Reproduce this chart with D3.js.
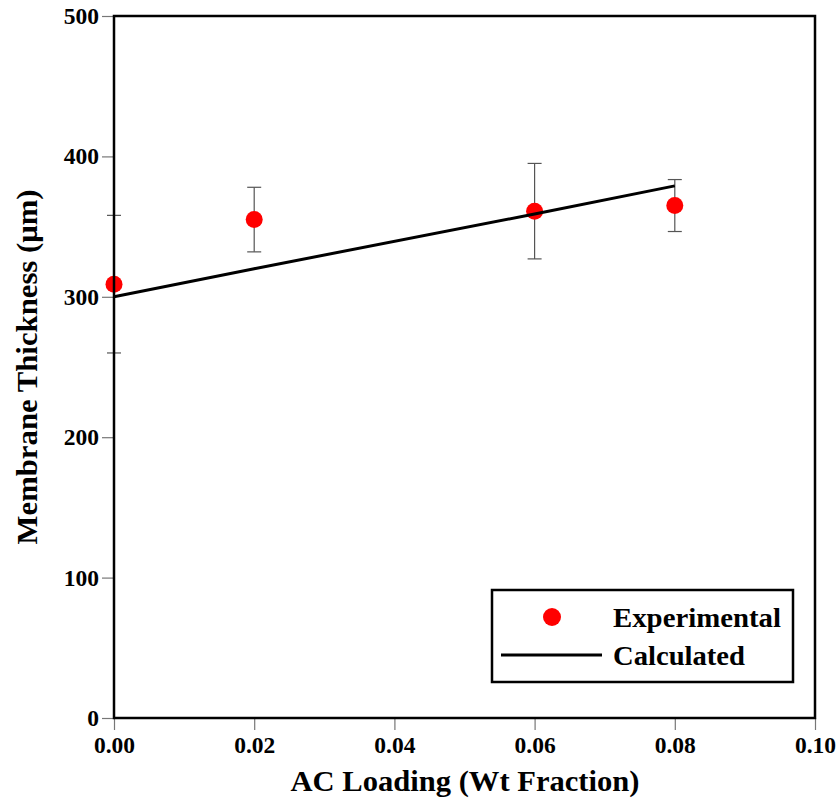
<!DOCTYPE html>
<html><head><meta charset="utf-8">
<script src="https://cdn.jsdelivr.net/npm/d3@7/dist/d3.min.js"></script>
<style>body{margin:0;background:#fff}text{font-family:"Liberation Serif","Times New Roman",serif;font-weight:bold}</style>
</head><body>
<svg id="c" width="840" height="799"></svg>
<script>
const expX = [0.00, 0.02, 0.06, 0.08];
const expY = [309, 355, 361, 365];
const expErr = [49, 23, 34, 18.5];
const calcX = [0.00, 0.02, 0.06, 0.08];
const calcY = [300, 320, 359, 379];
const xTicks = [0, 0.02, 0.04, 0.06, 0.08, 0.10];
const yTicks = [0, 100, 200, 300, 400, 500];

const svg = d3.select("#c");
const L = 114, R = 815, T = 16, B = 718;
const x = d3.scaleLinear().domain([0, 0.10]).range([L, R]);
const y = d3.scaleLinear().domain([0, 500]).range([B, T]);

const xa = svg.append("g").attr("transform", `translate(0,${B})`)
  .call(d3.axisBottom(x).tickValues(xTicks).tickFormat(d3.format(".2f")).tickSize(12).tickPadding(6));
const ya = svg.append("g").attr("transform", `translate(${L},0)`)
  .call(d3.axisLeft(y).tickValues(yTicks).tickFormat(d3.format("d")).tickSize(12).tickPadding(3));
[xa, ya].forEach(g => {
  g.select(".domain").remove();
  g.selectAll(".tick line").attr("stroke", "#777").attr("stroke-width", 1.2);
  g.selectAll(".tick text").attr("font-size", 23.5).attr("fill", "#000")
    .style("font-family", '"Liberation Serif","Times New Roman",serif').style("font-weight", "bold");
});

const eg = svg.append("g").attr("stroke", "#555").attr("stroke-width", 1.2);
expX.forEach((xv, i) => {
  const cx = x(xv), y1 = y(expY[i] + expErr[i]), y2 = y(expY[i] - expErr[i]);
  eg.append("line").attr("x1", cx).attr("x2", cx).attr("y1", y1).attr("y2", y2);
  eg.append("line").attr("x1", cx - 7).attr("x2", cx + 7).attr("y1", y1).attr("y2", y1);
  eg.append("line").attr("x1", cx - 7).attr("x2", cx + 7).attr("y1", y2).attr("y2", y2);
});

svg.append("g").selectAll("circle").data(expX).join("circle")
  .attr("cx", d => x(d)).attr("cy", (d, i) => y(expY[i])).attr("r", 8.5).attr("fill", "#ff0000");

const line = d3.line().x(d => x(d[0])).y(d => y(d[1]));
svg.append("path").datum(calcX.map((d, i) => [d, calcY[i]]))
  .attr("d", line).attr("fill", "none").attr("stroke", "#000").attr("stroke-width", 3);

svg.append("rect").attr("x", L).attr("y", T).attr("width", R - L).attr("height", B - T)
  .attr("fill", "none").attr("stroke", "#000").attr("stroke-width", 2.5);

const lg = svg.append("g");
lg.append("rect").attr("x", 492).attr("y", 590).attr("width", 301).attr("height", 92)
  .attr("fill", "#fff").attr("stroke", "#000").attr("stroke-width", 2.5);
lg.append("circle").attr("cx", 552).attr("cy", 617).attr("r", 9).attr("fill", "#ff0000");
lg.append("line").attr("x1", 501).attr("x2", 602).attr("y1", 655).attr("y2", 655)
  .attr("stroke", "#000").attr("stroke-width", 3);
lg.append("text").attr("x", 613).attr("y", 627).attr("font-size", 27)
  .attr("textLength", 168).attr("lengthAdjust", "spacingAndGlyphs").text("Experimental");
lg.append("text").attr("x", 613).attr("y", 665).attr("font-size", 27)
  .attr("textLength", 132).attr("lengthAdjust", "spacingAndGlyphs").text("Calculated");

svg.append("text").attr("x", 465).attr("y", 791).attr("text-anchor", "middle")
  .attr("font-size", 30).attr("textLength", 349).attr("lengthAdjust", "spacingAndGlyphs")
  .text("AC Loading (Wt Fraction)");
svg.append("text").attr("transform", `translate(37,${(T + B) / 2}) rotate(-90)`)
  .attr("text-anchor", "middle").attr("font-size", 30).attr("textLength", 355)
  .attr("lengthAdjust", "spacingAndGlyphs").text("Membrane Thickness (μm)");
</script>
</body></html>
